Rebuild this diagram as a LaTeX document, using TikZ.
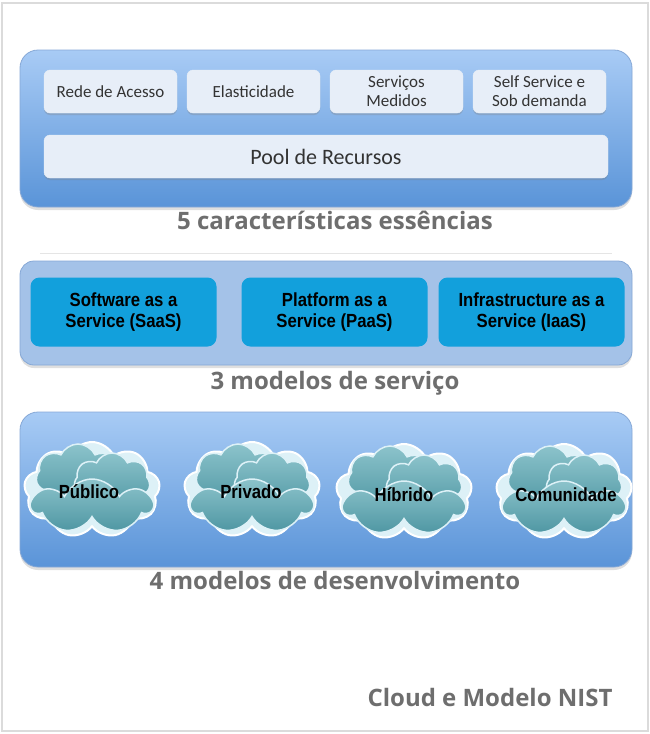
\documentclass[tikz,border=0pt]{standalone}
\usepackage{fontspec}
\setmainfont{Open Sans}
\newfontfamily\caixafont{Carlito}
\newfontfamily\servfont[FakeStretch=0.88]{Liberation Sans}
\usetikzlibrary{positioning}
\usetikzlibrary{shapes.symbols}
\usetikzlibrary{shadows}
\definecolor{painelTopo}{HTML}{A8CBF5}
\definecolor{painelBase}{HTML}{5A94D8}
\definecolor{painelMeio}{HTML}{A4C2E8}
\definecolor{bordaPainel}{HTML}{86A8D6}
\definecolor{caixaFundo}{HTML}{E7EEF8}
\definecolor{servFundo}{HTML}{12A0DC}
\definecolor{tituloCinza}{HTML}{6E6E6E}
\definecolor{nuvemClara}{HTML}{DDF1F7}
\definecolor{nuvemTopo}{HTML}{8CC3CB}
\definecolor{nuvemBase}{HTML}{4F97A3}
\tikzset{every picture/.style={x=1pt,y=-1pt},
  nuvem/.pic={
    \node (-fundo) [nfundo,minimum width=136pt,minimum height=96pt] at (0,0) {};
    \node (-esq) [nmeio,minimum width=84pt,minimum height=64pt] at (-14,-14) {};
    \node (-dir) [nmeio,minimum width=76pt,minimum height=58pt] at (20,-8) {};
    \node (-baixo) [nmeio,minimum width=120pt,minimum height=54pt] at (0,16) {};
  }}

\begin{document}
\begin{tikzpicture}[outer sep=0pt,
  painel/.style={rounded corners=18pt,draw=bordaPainel,line width=0.8pt,drop shadow={shadow xshift=0pt,shadow yshift=-3pt,opacity=.25}},
  caixa/.style={rectangle,rounded corners=6pt,fill=caixaFundo,draw=white!80!bordaPainel,minimum width=133pt,minimum height=43pt,align=center,font=\caixafont\fontsize{17}{19}\selectfont,text=black!80,drop shadow={shadow xshift=0pt,shadow yshift=-2pt,opacity=.3}},
  serv/.style={rectangle,rounded corners=9pt,fill=servFundo,minimum width=186pt,minimum height=69pt,align=center,font=\servfont\bfseries\fontsize{19}{21}\selectfont},
  titulo/.style={font=\bfseries\fontsize{24}{27}\selectfont,text=tituloCinza},
  nfundo/.style={cloud,cloud puffs=9,cloud puff arc=130,cloud ignores aspect,fill=nuvemClara,draw=white,line width=2pt},
  nmeio/.style={cloud,cloud puffs=7,cloud puff arc=130,cloud ignores aspect,top color=nuvemTopo,bottom color=nuvemBase,draw=nuvemClara,line width=1.5pt},
  nrotulo/.style={font=\servfont\bfseries\fontsize{19}{21}\selectfont}]
\useasboundingbox (0,0) rectangle (650,734);
\draw[black!14,line width=1.5pt] (2,3) rectangle (648,731);

% 5 caracteristicas
\draw[painel,top color=painelTopo,bottom color=painelBase] (20,50) rectangle (632,207);
\node (rede) [caixa] at (110.5,91.5) {Rede de Acesso};
\node (elast) [caixa,right=10pt of rede] {Elasticidade};
\node (medidos) [caixa,right=10pt of elast] {Serviços\\Medidos};
\node (self) [caixa,right=10pt of medidos] {Self Service e\\Sob demanda};
\node (pool) [caixa,minimum width=564pt,font=\caixafont\fontsize{22}{24}\selectfont] at (326,156.5) {Pool de Recursos};
\node (t1) [titulo] at (335,220) {5 características essências};
\draw[black!10,line width=1pt] (40,253) -- (612,253);

% 3 modelos de servico
\draw[painel,fill=painelMeio,rounded corners=14pt] (20,261) rectangle (632,365);
\node (saas) [serv] at (123.5,312) {Software as a\\Service (SaaS)};
\node (paas) [serv,right=25pt of saas] {Platform as a\\Service (PaaS)};
\node (iaas) [serv,right=11pt of paas] {Infrastructure as a\\Service (IaaS)};
\node (t2) [titulo] at (335,383) {3 modelos de serviço};

% 4 modelos de desenvolvimento
\draw[painel,top color=painelTopo,bottom color=painelBase] (20,412) rectangle (632,567);
\pic (n1) at (92,490) {nuvem};
\pic (n2) at (252,490) {nuvem};
\pic (n3) at (404,492) {nuvem};
\pic (n4) at (564,492) {nuvem};
\node (publico) [nrotulo] at (89,492) {Público};
\node (privado) [nrotulo] at (251,492) {Privado};
\node (hibrido) [nrotulo] at (404,495) {Híbrido};
\node (comunidade) [nrotulo] at (566,495) {Comunidade};
\node (t3) [titulo] at (335,580) {4 modelos de desenvolvimento};

\node (nist) [titulo] at (490,697) {Cloud e Modelo NIST};
\end{tikzpicture}
\end{document}
